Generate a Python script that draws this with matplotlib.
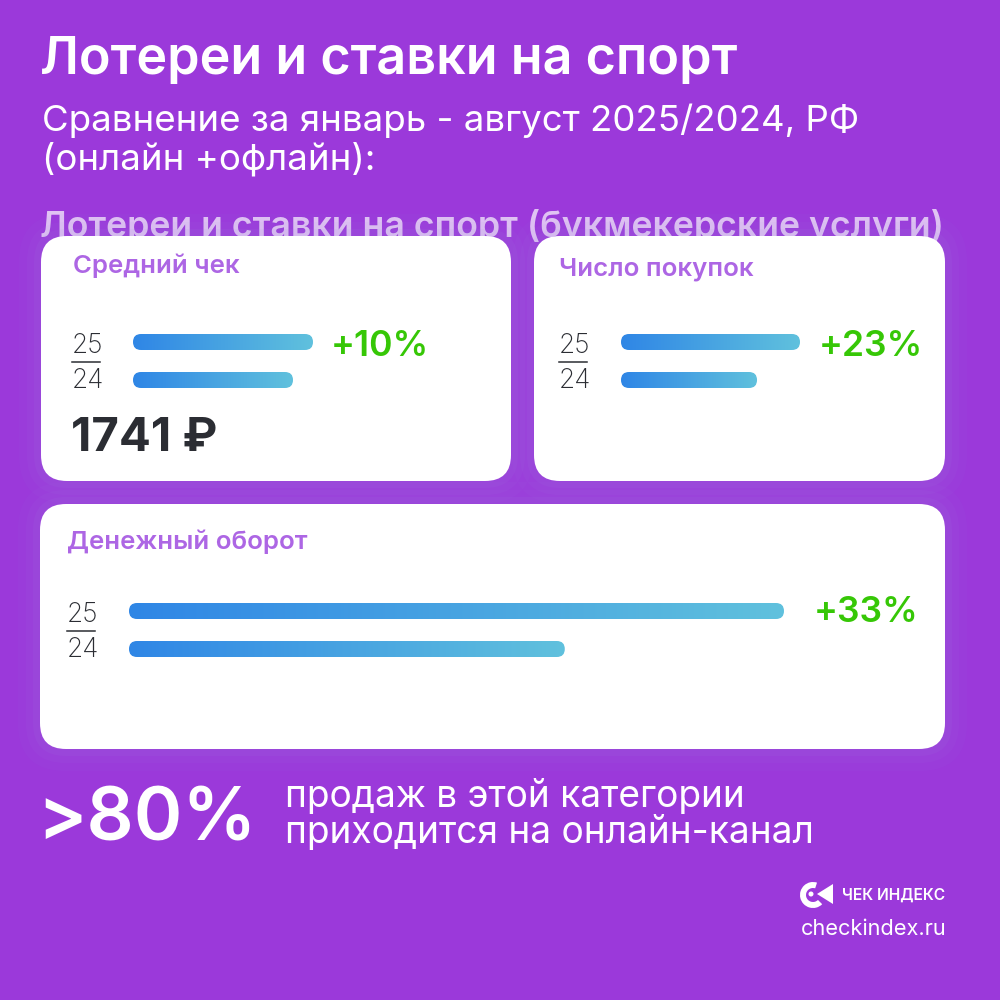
import numpy as np
import matplotlib
matplotlib.use("Agg")
import matplotlib.pyplot as plt
from matplotlib.patches import FancyBboxPatch, Wedge, Polygon, Circle

plt.rcParams["font.family"] = ["Inter", "Noto Sans", "DejaVu Sans"]

# bar lengths, index with 2024 = 100
YEARS = ["25", "24"]
CHECK = [112.5, 100]
PURCHASES = [131.6, 100]
TURNOVER = [150.3, 100]
CARD_TITLES = ["Средний чек", "Число покупок", "Денежный оборот"]
GROWTH = ["+10%", "+23%", "+33%"]
AVG_CHECK = "1741 ₽"

BG = "#9b39da"
PURPLE = "#ad66e4"
GREEN = "#36c706"
DARK = "#2b2d33"
BAR_LEFT = "#2f86e6"
BAR_RIGHT = "#60c1dd"
PX = 1000


def card(ax, x0, y0, x1, y1):
    for pad, alpha in [(22, 0.02), (14, 0.03), (7, 0.04)]:
        ax.add_patch(FancyBboxPatch((x0 - pad, y0 - pad), x1 - x0 + 2 * pad, y1 - y0 + 2 * pad,
                                    boxstyle=f"round,pad=0,rounding_size={26 + pad}",
                                    fc="#9a8fe0", ec="none", alpha=alpha * 2, zorder=2))
    ax.add_patch(FancyBboxPatch((x0, y0), x1 - x0, y1 - y0,
                                boxstyle="round,pad=0,rounding_size=26",
                                fc="white", ec="none", zorder=3))


def bars(values, x0, width_px, y_top, row_gap=38, bar_h=16):
    # one small axes per card: x is the index, y the year row
    ax = fig.add_axes([x0 / PX, 1 - (y_top + row_gap + 19) / PX, width_px / PX, (row_gap + 38) / PX],
                      zorder=5)
    ax.set_xlim(0, max(values))
    ax.set_ylim(1.5, -0.5)
    ax.axis("off")
    ax.patch.set_alpha(0)
    xscale = width_px / max(values)
    grad = np.linspace(0, 1, 256).reshape(1, -1)
    cmap = matplotlib.colors.LinearSegmentedColormap.from_list("bar", [BAR_LEFT, BAR_RIGHT])
    for i, v in enumerate(values):
        h = bar_h / row_gap
        patch = FancyBboxPatch((0, i - h / 2), v, h,
                               boxstyle=f"round,pad=0,rounding_size={(bar_h / 2) / xscale}",
                               mutation_aspect=xscale / row_gap, fc="none", ec="none")
        ax.add_patch(patch)
        im = ax.imshow(grad, extent=(0, v, i + h / 2, i - h / 2), cmap=cmap, aspect="auto")
        im.set_clip_path(patch)
    ax.set_xlim(0, max(values))
    ax.set_ylim(1.5, -0.5)
    return ax


def year_labels(ax, x, y25):
    ax.text(x, y25 + 4, YEARS[0], fontsize=19, color=DARK, fontweight="light", va="center", zorder=6)
    ax.plot([x, x + 28], [y25 + 20, y25 + 20], color=DARK, lw=1.1, zorder=6)
    ax.text(x, y25 + 39, YEARS[1], fontsize=19, color=DARK, fontweight="light", va="center", zorder=6)


fig = plt.figure(figsize=(10, 10), dpi=100, facecolor=BG)
bg = fig.add_axes([0, 0, 1, 1])
bg.set_xlim(0, PX)
bg.set_ylim(PX, 0)
bg.axis("off")

bg.text(40, 60, "Лотереи и ставки на спорт", fontsize=37.5, fontweight="semibold", color="white", va="center")
bg.text(42, 121, "Сравнение за январь - август 2025/2024, РФ", fontsize=26.4, color="white", va="center")
bg.text(42, 159, "(онлайн +офлайн):", fontsize=26.4, color="white", va="center")
bg.text(40, 226, "Лотереи и ставки на спорт (букмекерские услуги)", fontsize=25.7,
        fontweight="semibold", color="#e0c3f3", va="center", zorder=1)

card(bg, 41, 236, 511, 481)
card(bg, 534, 236, 945, 481)
card(bg, 40, 504, 945, 749)

for (x, y), title in zip([(73, 266), (559, 269), (67, 542)], CARD_TITLES):
    bg.text(x, y, title, fontsize=18.6, fontweight="semibold", color=PURPLE, va="center", zorder=6)

year_labels(bg, 72, 342)
year_labels(bg, 559, 342)
year_labels(bg, 67, 611)

bars(CHECK, 133, 180, 342)
bars(PURCHASES, 621, 179, 342)
bars(TURNOVER, 129, 655, 611)

for (x, y), label in zip([(331, 346), (819, 346), (814, 612)], GROWTH):
    bg.text(x, y, label, fontsize=25.6, fontweight="semibold", color=GREEN, va="center", zorder=6)

bg.text(71, 439, AVG_CHECK, fontsize=34, fontweight="bold", color=DARK, va="center", zorder=6)

bg.text(37, 821, ">80%", fontsize=53, fontweight="semibold", color="white", va="center")
bg.text(285, 797, "продаж в этой категории", fontsize=26.7, color="white", va="center")
bg.text(285, 833, "приходится на онлайн-канал", fontsize=26.7, color="white", va="center")

# logo
bg.add_patch(Wedge((813, 895), 13, 45, 288, width=6, fc="white", ec="none"))
bg.add_patch(Circle((811, 894), 2.5, fc="white", ec="none"))
bg.add_patch(Polygon([(817, 894), (833, 884), (833, 904)], closed=True, fc="white", ec="none"))
bg.text(842, 895, "ЧЕК ИНДЕКС", fontsize=11.2, fontweight="semibold", color="white", va="center")
bg.text(801, 929, "checkindex.ru", fontsize=15.7, color="white", va="center")

fig.savefig("out.png", dpi=100, facecolor=BG)
